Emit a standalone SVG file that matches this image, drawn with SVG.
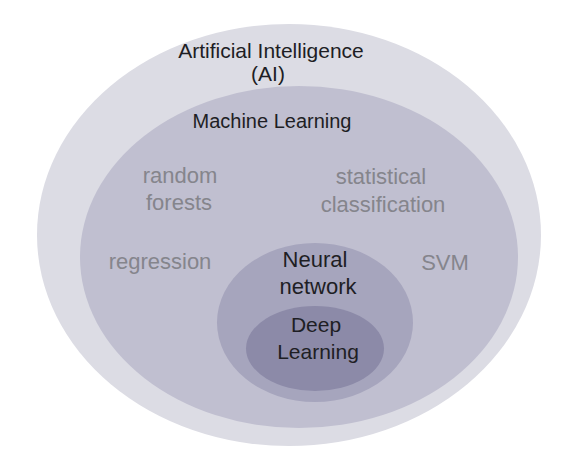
<svg xmlns="http://www.w3.org/2000/svg" width="575" height="469" viewBox="0 0 575 469">
<style>
text{font-family:"Liberation Sans",Arial,sans-serif;text-anchor:middle;font-size:21px}
.d{fill:#1e1e24}
.g{fill:#85858c;font-size:22px}
.nn{font-size:22px}
.ml{font-size:20px}
</style>
<rect width="575" height="469" fill="#ffffff"/>
<g id="ai">
<ellipse cx="289" cy="235" rx="252" ry="211" fill="#dcdce4"/>
<text class="d" x="271" y="58">Artificial Intelligence</text>
<text class="d" x="268" y="81" font-size="20">(AI)</text>
</g>
<g id="ml">
<ellipse cx="299" cy="257" rx="219" ry="171" fill="#c0bfd0"/>
<text class="d ml" x="272" y="128">Machine Learning</text>
<text class="g" x="180" y="183">random</text>
<text class="g" x="179" y="210">forests</text>
<text class="g" x="381" y="184">statistical</text>
<text class="g" x="383" y="212">classification</text>
<text class="g" x="160" y="269">regression</text>
<text class="g" x="445" y="270">SVM</text>
</g>
<g id="nn">
<ellipse cx="315" cy="322.5" rx="98" ry="79.5" fill="#a6a5bd"/>
<text class="d nn" x="315" y="267">Neural</text>
<text class="d nn" x="318" y="294">network</text>
</g>
<g id="dl">
<ellipse cx="315" cy="348.5" rx="69" ry="42.5" fill="#8c8aa8"/>
<text class="d" x="316" y="332">Deep</text>
<text class="d" x="318" y="359">Learning</text>
</g>
<g id="connectors"/>
</svg>
